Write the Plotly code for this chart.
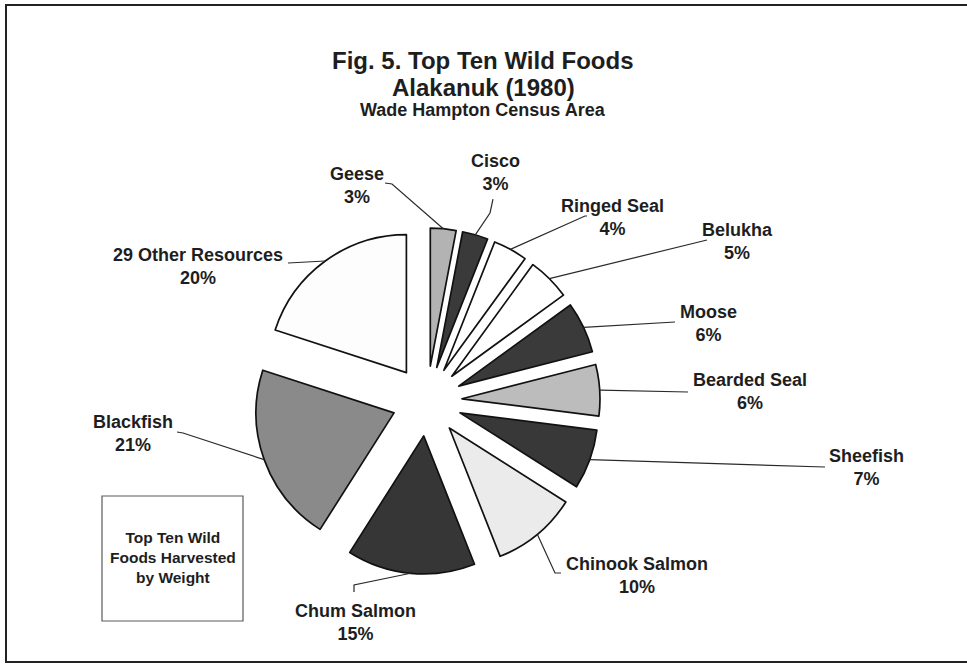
import math
import plotly.graph_objects as go

# ---- data -------------------------------------------------------------
foods = ["Geese", "Cisco", "Ringed Seal", "Belukha", "Moose", "Bearded Seal",
         "Sheefish", "Chinook Salmon", "Chum Salmon", "Blackfish",
         "29 Other Resources"]
shares = [3, 3, 4, 5, 6, 6, 7, 10, 15, 21, 20]

# ---- styling ----------------------------------------------------------
fills = ["#b3b3b3", "#3a3a3a", "#ffffff", "#ffffff", "#3a3a3a", "#bcbcbc",
         "#383838", "#ebebeb", "#363636", "#8a8a8a", "#fdfdfd"]

W, H = 967, 665
CX, CY = 427, 401          # pie centre (px, from top-left)
R = 138                    # slice radius (px)
PULL = 0.254               # explode distance as a fraction of R
FONT = "Liberation Sans, Arial, Helvetica, sans-serif"
INK = "#1e1e1e"

# label centres (px) and leader-line routes from label towards slice
label_pos = {
    "Geese": (357, 185), "Cisco": (495, 172), "Ringed Seal": (612, 217),
    "Belukha": (737, 241), "Moose": (708, 323), "Bearded Seal": (750, 392),
    "Sheefish": (866, 467), "Chinook Salmon": (637, 575),
    "Chum Salmon": (355, 622), "Blackfish": (133, 433),
    "29 Other Resources": (198, 266),
}
leader_route = {
    "Geese": [(385, 183), (392, 184)],
    "Cisco": [(493, 199), (490, 213)],
    "Ringed Seal": [(587, 216), (585, 216)],
    "Belukha": [(707, 240)],
    "Moose": [(675, 322)],
    "Bearded Seal": [(688, 392)],
    "Sheefish": [(825, 467)],
    "Chinook Salmon": [(561, 573), (555, 573)],
    "Chum Salmon": [(354, 592), (354, 585)],
    "Blackfish": [(177, 432), (183, 433)],
    "29 Other Resources": [(288, 263)],
}


def px(x):
    return x / W


def py(y):
    return 1 - y / H


half = R * (1 + PULL)
fig = go.Figure(go.Pie(
    labels=foods, values=shares, sort=False, direction="clockwise",
    rotation=0, pull=[PULL] * len(shares),
    marker=dict(colors=fills, line=dict(color="#111111", width=1.7)),
    textinfo="none", hoverinfo="label+percent", showlegend=False,
    domain=dict(x=[px(CX - half), px(CX + half)],
                y=[py(CY + half), py(CY - half)]),
))

shapes = []
annotations = []

# leader lines: each starts at the midpoint of its exploded slice's arc
total = sum(shares)
cum = 0
for name, v in zip(foods, shares):
    mid = (cum + v / 2) / total * 2 * math.pi
    cum += v
    sx = CX + half * math.sin(mid)
    sy = CY - half * math.cos(mid)
    pts = [(sx, sy)] + list(reversed(leader_route[name]))
    path = "M " + " L ".join(f"{px(x):.5f},{py(y):.5f}" for x, y in pts)
    shapes.append(dict(type="path", xref="paper", yref="paper", path=path,
                       line=dict(color="#2a2a2a", width=1.2)))
    lx, ly = label_pos[name]
    annotations.append(dict(
        x=px(lx), y=py(ly), xref="paper", yref="paper",
        text=f"{name}<br>{v}%", showarrow=False, align="center",
        xanchor="center", yanchor="middle",
        font=dict(family=FONT, size=18, color=INK, weight="bold")))

# titles
for text, y, size in [("Fig. 5. Top Ten Wild Foods", 61, 24),
                      ("Alakanuk (1980)", 87, 24),
                      ("Wade Hampton Census Area", 110, 18)]:
    annotations.append(dict(
        x=px(483), y=py(y), xref="paper", yref="paper", text=text,
        showarrow=False, xanchor="center", yanchor="middle",
        font=dict(family=FONT, size=size, color=INK, weight="bold")))

# note box
shapes.append(dict(type="rect", xref="paper", yref="paper",
                   x0=px(102), x1=px(243), y0=py(621), y1=py(496),
                   line=dict(color="#5a5a5a", width=1.2)))
annotations.append(dict(
    x=px(173), y=py(557), xref="paper", yref="paper",
    text="Top Ten Wild<br>Foods Harvested<br>by Weight", showarrow=False,
    align="center", xanchor="center", yanchor="middle",
    font=dict(family=FONT, size=15.5, color=INK, weight="bold")))

# outer frame
shapes.append(dict(type="rect", xref="paper", yref="paper",
                   x0=px(6), x1=px(975), y0=py(662), y1=py(5),
                   line=dict(color="#222222", width=2)))

fig.update_layout(
    width=W, height=H, margin=dict(l=0, r=0, t=0, b=0),
    paper_bgcolor="white", plot_bgcolor="white",
    shapes=shapes, annotations=annotations,
)

fig.write_html("out.html")
